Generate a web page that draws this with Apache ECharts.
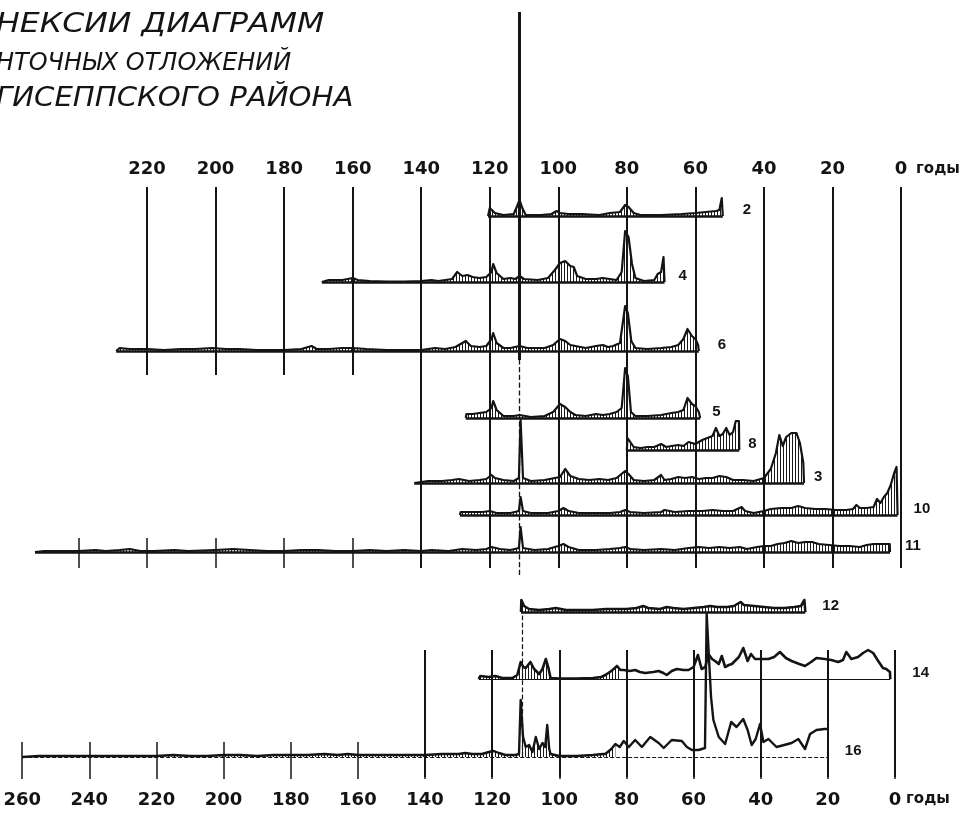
<!DOCTYPE html>
<html><head><meta charset="utf-8">
<script src="https://cdn.jsdelivr.net/npm/echarts@6/dist/echarts.min.js"></script>
<style>html,body{margin:0;padding:0;background:#fff}#c{width:963px;height:815px}</style>
</head><body><div id="c"></div>
<script>
// ---------- text ----------
const titleLines = ['НЕКСИИ ДИАГРАММ', 'НТОЧНЫХ ОТЛОЖЕНИЙ', 'ГИСЕППСКОГО РАЙОНА'];
const unitLabel = 'годы';
// ---------- tick labels (years before present) ----------
const topYearTicks = [0, 20, 40, 60, 80, 100, 120, 140, 160, 180, 200, 220];
const bottomYearTicks = [0, 20, 40, 60, 80, 100, 120, 140, 160, 180, 200, 220, 240, 260];
const markerYearTop = 111.5;
const markerYearBottom = 111;
// ---------- traces: [years, amplitude] ----------
const trace2 = [[120.5,0],[120,8],[118.5,3],[116,1],[113,2],[112,10],[111.3,16],[110.5,8],[109.5,1],[105,1],[102,2],[100.5,5],[99.5,3],[97,2],[93,2],[88,1],[85,3],[82,4],[80.5,11],[79.5,9],[78,3],[76,1],[70,1],[64,2],[60,3],[57,4],[54,5],[53,6],[52.3,18],[52,0]];
const trace4 = [[169,0],[167,2],[163,2],[160,4],[158.5,2],[155,1],[150,0.5],[145,0.5],[140,1],[137,2],[135,1],[131,3],[129.5,10],[128,6],[126.5,7],[125,5],[123,4],[121,5],[119.5,10],[119,18],[118,9],[116,3],[114,4],[112.5,3],[111.3,6],[110,3],[106,2],[103,4],[101,12],[99.5,19],[98,21],[96.5,16],[95.5,15],[94.5,6],[92,3],[89,3],[87,4],[85,3],[83,2],[81.5,10],[80.5,51],[79.5,45],[78.5,18],[77.5,4],[75,1],[72,2],[71,8],[70,10],[69.3,25],[69,0]];
const trace6 = [[229,0],[228,3],[225,2],[220,2],[215,1],[210,2],[206,2],[201,3],[197,2],[193,2],[188,1],[180,1],[175,2],[172,5],[170.5,2],[167,2],[163,3],[160,3],[156,2],[150,1],[144,1],[140,1],[136,3],[133,2],[130,4],[127,10],[125.5,5],[123,4],[121,5],[119.5,12],[119,18],[118,8],[116,3],[114,3],[111.3,5],[109,3],[104,3],[101.5,6],[99.5,12],[98,10],[96.5,6],[95,5],[92,3],[89,5],[87,6],[85.5,4],[84,5],[82,8],[80.5,45],[79.7,38],[78.7,10],[77.5,3],[74,2],[70,3],[67,4],[65,6],[63.5,12],[62.3,22],[61,15],[60,12],[59.2,6],[59,0]];
const trace5 = [[127,0],[126.8,4],[125,4],[123,5],[121,6],[119.5,10],[119,17],[118,8],[116,2],[113,2],[111.3,3],[108,1],[104,2],[101.5,6],[99.5,14],[98,11],[96.5,6],[95,3],[92,2],[89,4],[87,3],[85,4],[83,6],[81.5,10],[80.5,50],[79.7,42],[78.8,6],[77.5,2],[74,2],[70,3],[67,5],[65,6],[63.5,8],[62.3,20],[61,14],[60,12],[59,6],[58.6,0]];
const trace8 = [[80,0],[79.8,12],[79,8],[78,3],[76,2],[74,3],[72,3],[70,6],[68.5,3],[67,4],[65,5],[63.5,4],[62,8],[60,6],[58,10],[56.5,12],[55,14],[54,22],[53,14],[52,16],[51,22],[50,15],[49,18],[48.2,29],[47.3,29],[47.2,0]];
const trace3 = [[142,0],[141.5,2],[138,2],[134,2],[131,3],[129,4],[126,2],[123,3],[121,4],[119.5,8],[118.5,5],[116,3],[113,2],[111.5,5],[111,63],[110.3,5],[108,2],[104,3],[101,5],[99.5,6],[98,14],[96.5,7],[94,4],[91,3],[88,4],[85.5,3],[83,5],[80.5,12],[79.5,9],[78,3],[75,2],[72,3],[70,8],[69,3],[67,4],[65,6],[63,5],[61,6],[59,4],[57,5],[55,5],[53,7],[51,6],[49,3],[46,3],[43,2],[41,4],[40,5],[38,14],[36.5,30],[35.5,48],[34.5,37],[33.5,46],[32,50],[30.5,50],[29.5,40],[28.5,20],[28.3,0]];
const trace10 = [[128.7,0],[128.5,3],[125,3],[122,3],[120,4],[118,2],[114,2],[111.5,4],[111,18],[110.3,4],[108,2],[103,2],[100,4],[98.5,7],[97,4],[94,2],[90,2],[85,2],[82,3],[80.5,5],[79,3],[75,2],[70,3],[69,5],[66,3],[62,4],[58,4],[55,5],[52,4],[49,4],[46.5,8],[45.5,4],[43,2],[40,4],[38,6],[35,7],[32,7],[30,9],[28,7],[25,6],[22,6],[19,5],[16,5],[14,6],[13,10],[12,7],[10,7],[8,8],[7,16],[6,12],[5,18],[4,22],[3,30],[2,42],[1.3,48],[1,0]];
const trace11 = [[252.7,0],[250,1],[245,1],[240,1],[235,2],[232,1],[228,2],[225,3],[222,1],[218,1],[212,2],[208,1],[200,2],[195,3],[190,2],[185,1],[180,1],[175,2],[170,2],[165,1],[160,1],[155,2],[150,1],[145,2],[140,1],[137,2],[132,1],[128,3],[124,2],[121,3],[119.5,5],[117,3],[114,2],[111.5,4],[111,25],[110.3,4],[107,2],[103,3],[100,6],[98.5,8],[97,5],[94,2],[89,2],[85,3],[82,4],[80.5,5],[79,3],[75,2],[70,3],[66,2],[62,4],[59,5],[56,4],[53,5],[50,4],[47,5],[45,3],[42,5],[40,6],[38,6],[36,8],[34,9],[32,11],[30,9],[28,10],[26,10],[24,8],[21,7],[18,6],[15,6],[12,5],[10,7],[8,8],[6,8],[4,8],[3.3,8],[3.2,0]];
const trace12 = [[111.4,0],[111.3,12],[110.5,6],[109,3],[106,2],[103,3],[101,4],[98,2],[94,2],[90,2],[86,3],[83,3],[80,3],[77,4],[75,6],[73.5,4],[70,3],[68,5],[66,4],[63,3],[60,4],[57,5],[55,6],[53,5],[50,5],[48,6],[46,10],[45,7],[42,6],[39,5],[36,4],[33,4],[30,5],[28,6],[27,12],[26.7,0]];
const trace14 = [[124,0],[123.5,3],[121,2],[119,3],[117,1],[114,1],[112.5,4],[111.5,17],[110.7,12],[110,11],[109.3,14],[108.6,17],[107.5,10],[106,5],[105,10],[104,20],[103.3,12],[102.6,1],[100,0.5],[95,0.5],[90,1],[87.5,2],[86.3,4],[84.5,8],[82.8,13],[81.8,9],[80.8,9],[79,8],[77.4,9],[76,7],[74.4,6],[72,7],[70.4,8],[69,6],[68,4],[66.5,8],[65,10],[63,9],[61.5,9],[60,12],[58.7,24],[57.6,10],[56.5,12],[55.6,25],[54.5,20],[53.6,18],[52.5,15],[51.6,23],[50.6,12],[49.5,14],[48.6,15],[46.5,22],[45.2,31],[43.9,18],[42.9,25],[41.7,20],[40,20],[37.7,20],[36,22],[34.3,27],[32.5,21],[30.8,18],[28.5,15],[26.8,13],[25,17],[23.4,21],[20.9,20],[19,19],[16.9,17],[15.5,19],[14.5,27],[13,20],[11,22],[9.5,26],[8,29],[6.5,26],[5,18],[3.6,11],[2.6,10],[1.5,7],[1.4,0]];
const trace16 = [[260,0],[259.5,2],[255,1],[250,1],[245,1],[240,1],[235,1],[230,1],[225,1],[220,1],[215,2],[210,1],[205,1],[200,2],[195,2],[190,1],[185,2],[180,2],[175,2],[170,3],[166,2],[163,3],[160,2],[155,2],[150,2],[145,2],[140,2],[135,3],[130,3],[128,4],[126,3],[123,3],[121,5],[119.5,6],[118,4],[116,2],[113,2],[112,3],[111.5,57],[110.8,20],[110,10],[109,12],[108,5],[107,20],[106,8],[105,14],[104.2,10],[103.6,32],[103,8],[102.6,3],[100,1],[95,1],[90,2],[87,3],[86.3,3],[84.5,8],[83.3,13],[82,10],[80.8,16],[79.3,10],[77.4,17],[75.4,10],[72.9,20],[70.4,14],[68.9,9],[66.5,17],[63.5,16],[62,10],[60.5,7],[58.5,7],[56.6,9],[56.1,143],[54.8,60],[54.1,37],[52.5,20],[50.6,13],[48.8,35],[47.2,30],[45.2,38],[43.9,27],[42.7,12],[41.5,18],[40.2,33],[39.2,15],[37.7,18],[35.3,10],[33,12],[30.8,14],[28.8,18],[26.8,8],[25.3,23],[23.4,27],[21,28],[20,28]];

// ---------- layout / style ----------
const W = 963;
const TOP = {x0: 901, k: 3.427};
const BOT = {x0: 895, k: 3.357};
const INK = '#141414';
const traces = [
  {name:'2',  data:trace2,  sc:TOP, base:216, gap:20},
  {name:'4',  data:trace4,  sc:TOP, base:282, gap:14},
  {name:'6',  data:trace6,  sc:TOP, base:351, gap:19},
  {name:'5',  data:trace5,  sc:TOP, base:418, gap:12},
  {name:'8',  data:trace8,  sc:TOP, base:450, gap:9},
  {name:'3',  data:trace3,  sc:TOP, base:483, gap:10},
  {name:'10', data:trace10, sc:TOP, base:515, gap:16},
  {name:'11', data:trace11, sc:TOP, base:552, gap:15},
  {name:'12', data:trace12, sc:BOT, base:612, gap:17, lw:2.6},
  {name:'14', data:trace14, sc:BOT, base:679, gap:22, fillFrom:81, baseW:1.2, lw:2.6},
  {name:'16', data:trace16, sc:BOT, base:757, gap:17, fillFrom:83, baseW:1, baseType:'dashed', lw:2.4}
];

const pc = document.createElement('canvas'); pc.width = 3; pc.height = 4;
const pg = pc.getContext('2d'); pg.fillStyle = '#1a1a1a'; pg.fillRect(0, 0, 1, 4);
const hatch = {image: pc, repeat: 'repeat'};

const grids = [], xAxes = [], yAxes = [], series = [];
function addGrid(sc, maxYear, top, bottom, xOpt, yMax) {
  const i = grids.length;
  grids.push({left: sc.x0 - sc.k * maxYear, right: W - sc.x0, top: top, height: bottom - top, containLabel: false});
  xAxes.push(Object.assign({type:'value', gridIndex:i, inverse:true, min:0, max:maxYear, interval:20, show:false}, xOpt || {}));
  yAxes.push({type:'value', gridIndex:i, min:0, max:yMax || 1, show:false});
  return i;
}
const gridLineStyle = {color: INK, width: 2};
const labelFont = {color: INK, fontFamily: 'DejaVu Sans', fontWeight: 'bold', fontSize: 18, showMinLabel: true, showMaxLabel: true};

// vertical year lines (top section)
addGrid(TOP, topYearTicks[topYearTicks.length-1], 187, 375, {
  show:true, position:'top', axisLine:{show:false}, axisTick:{show:false},
  axisLabel:Object.assign({margin:9}, labelFont), splitLine:{show:true, lineStyle:gridLineStyle}});
addGrid(TOP, 140, 375, 568, {show:true, axisLine:{show:false}, axisTick:{show:false}, axisLabel:{show:false}, splitLine:{show:true, lineStyle:gridLineStyle}});
addGrid(TOP, 240, 538, 568, {show:true, axisLine:{show:false}, axisTick:{show:false}, axisLabel:{show:false}, splitLine:{show:true, lineStyle:{color:INK, width:1.5}}});
// bottom section
addGrid(BOT, 140, 650, 777, {show:true, axisLine:{show:false}, axisTick:{show:false}, axisLabel:{show:false}, splitLine:{show:true, lineStyle:gridLineStyle}});
addGrid(BOT, bottomYearTicks[bottomYearTicks.length-1], 742, 779, {
  show:true, position:'bottom', axisLine:{show:false}, axisTick:{show:false},
  axisLabel:Object.assign({margin:12}, labelFont), splitLine:{show:true, lineStyle:{color:INK, width:1.5}}});

// marker lines
function marker(sc, year, top, bottom, ls) {
  const gi = addGrid(sc, 260, top, bottom);
  series.push({type:'line', xAxisIndex:gi, yAxisIndex:gi, data:[], silent:true, z:4,
    markLine:{symbol:['none','none'], silent:true, label:{show:false}, lineStyle:ls, data:[{xAxis:year}]}});
}
marker(TOP, markerYearTop, 12, 360, {color:INK, width:3, type:'solid'});
marker(TOP, markerYearTop, 360, 575, {color:INK, width:1.3, type:'dashed'});
marker(BOT, markerYearBottom, 612, 757, {color:INK, width:1.2, type:'dashed'});

// traces
const H = 150;
traces.forEach(t => {
  const gi = addGrid(t.sc, 260, t.base - H, t.base, null, H);
  const first = t.data[0], last = t.data[t.data.length-1];
  const fillData = t.fillFrom == null ? t.data : t.data.filter(d => d[0] >= t.fillFrom);
  series.push({type:'line', xAxisIndex:gi, yAxisIndex:gi, data:fillData, showSymbol:false, silent:true, z:2,
    clip:false, lineStyle:{width:0}, areaStyle:{color:hatch, opacity:1, origin:'start'}});
  series.push({type:'line', name:t.name, xAxisIndex:gi, yAxisIndex:gi, data:t.data, showSymbol:false, silent:true, z:3,
    clip:false, lineStyle:{color:INK, width:t.lw || 2.2, join:'round'},
    markLine:{symbol:['none','none'], silent:true,
      lineStyle:{color:INK, width:t.baseW || 2.5, type:t.baseType || 'solid'},
      label:{show:true, position:'end', distance:t.gap, formatter:t.name + '\n ', color:INK, lineHeight:12,
        fontFamily:'Liberation Sans', fontWeight:'bold', fontSize:15},
      data:[[{coord:[first[0],0]},{coord:[last[0],0]}]]}});
});

const title = [
  {text:titleLines[0], y:25, size:27, sx:1.17},
  {text:titleLines[1], y:63, size:25, sx:0.96},
  {text:titleLines[2], y:99, size:27, sx:1.08}
];
const graphic = title.map(l => ({type:'text', x:-4, y:l.y, scaleX:l.sx, silent:true,
  style:{text:l.text, fill:INK, fontSize:l.size, fontStyle:'italic', fontFamily:'DejaVu Sans', verticalAlign:'middle'}}));
graphic.push({type:'text', x:916, y:169, silent:true, style:{text:unitLabel, fill:INK, fontSize:15, fontWeight:'bold', fontFamily:'DejaVu Sans', verticalAlign:'middle'}});
graphic.push({type:'text', x:906, y:799, silent:true, style:{text:unitLabel, fill:INK, fontSize:15, fontWeight:'bold', fontFamily:'DejaVu Sans', verticalAlign:'middle'}});

const chart = echarts.init(document.getElementById('c'), null, {renderer:'canvas'});
chart.setOption({animation:false, backgroundColor:'#fff', grid:grids, xAxis:xAxes, yAxis:yAxes, series:series, graphic:graphic});
</script></body></html>
